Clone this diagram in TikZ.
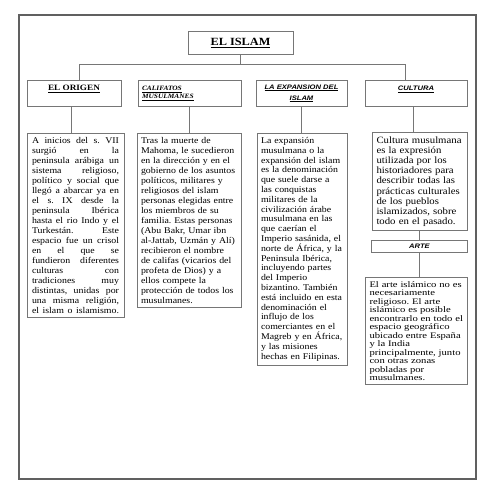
\documentclass[tikz,border=0pt]{standalone}
\usepackage{fontspec}
\usepackage{xcolor}
\usepackage{tikz}
\usetikzlibrary{calc}
\usetikzlibrary{positioning}
\setmainfont[FakeStretch=1.12]{Liberation Serif}
\newfontfamily\hdrsans[FakeStretch=1.17]{Liberation Sans}
\newfontfamily\artefont[FakeStretch=1.25]{Liberation Serif}
\definecolor{boxgray}{RGB}{118,118,118}
\definecolor{framegray}{RGB}{96,96,96}
\lefthyphenmin=62
\frenchspacing
\newcommand{\jl}[1]{\makebox[\hsize][s]{\spaceskip=0.25em plus 4em\relax #1}}
\tikzstyle{hdrbox} = [draw=boxgray, line width=0.8pt, fill=white, rectangle,
anchor=north, minimum height=26pt, inner sep=2pt]
\tikzstyle{txtbox} = [draw=boxgray, line width=0.8pt, fill=white, rectangle,
anchor=north, inner ysep=4pt, inner xsep=4pt, align=left, font=\fontsize{8.8}{10}\selectfont]
\tikzstyle{conn} = [draw=boxgray, line width=0.8pt]

\begin{document}
\begin{tikzpicture}[x=1pt, y=-1pt]
        \useasboundingbox (0,0) rectangle (495,495);
        \draw[framegray, line width=1.3pt] (19,15) rectangle (476,479);

        \node [hdrbox, minimum width=105pt, minimum height=23pt,
            font=\fontsize{11}{13}\selectfont\bfseries] (islam) at (240.5,31) {\underline{EL ISLAM}};

        \node [hdrbox, minimum width=94pt, text height=6pt, text depth=11pt,
            font=\fontsize{8.2}{10}\selectfont\bfseries] (origen) at (74,80) {\underline{EL ORIGEN}};
        \node [hdrbox, minimum width=103pt, text width=95pt, align=left,
            font=\fontsize{6.6}{8.5}\selectfont\bfseries\itshape] (califatos) at (189.5,80)
            {\underline{CALIFATOS}\\\underline{MUSULMANES}};
        \node [hdrbox, minimum width=91pt, align=center,
            font=\hdrsans\fontsize{6.5}{11}\selectfont\bfseries\itshape] (expansion) at (301.5,80)
            {\underline{LA EXPANSION DEL}\\\underline{ISLAM}};
        \node [hdrbox, minimum width=102pt, text height=6pt, text depth=11pt,
            font=\hdrsans\fontsize{6.5}{10}\selectfont\bfseries\itshape] (cultura) at (416,80) {\underline{CULTURA}};

        \node [txtbox, text width=87pt, inner xsep=5pt] (origen-txt) at (75.5,133) {%
            \jl{A inicios del s. VII}\\ \jl{surgió en la}\\ \jl{peninsula arábiga un}\\
            \jl{sistema religioso,}\\ \jl{político y social que}\\ \jl{llegó a abarcar ya en}\\
            \jl{el s. IX desde la}\\ \jl{peninsula Ibérica}\\ \jl{hasta el rio Indo y el}\\
            \jl{Turkestán. Este}\\ \jl{espacio fue un crisol}\\ \jl{en el que se}\\
            \jl{fundieron diferentes}\\ \jl{culturas con}\\ \jl{tradiciones muy}\\
            \jl{distintas, unidas por}\\ \jl{una misma religión,}\\ \jl{el islam o islamismo.}};
        \node [txtbox, text width=96pt] (califatos-txt) at (189,133) {%
            Tras la muerte de\\ Mahoma, le sucedieron\\ en la dirección y en el\\
            gobierno de los asuntos\\ políticos, militares y\\ religiosos del islam\\
            personas elegidas entre\\ los miembros de su\\ familia. Estas personas\\
            (Abu Bakr, Umar ibn\\ al-Jattab, Uzmán y Alí)\\ recibieron el nombre\\
            de califas (vicarios del\\ profeta de Dios) y a\\ ellos compete la\\
            protección de todos los\\ musulmanes.};
        \node [txtbox, text width=82pt, font=\fontsize{8.8}{9.8}\selectfont] (expansion-txt) at (302,133) {%
            La expansión\\ musulmana o la\\ expansión del islam\\ es la denominación\\
            que suele darse a\\ las conquistas\\ militares de la\\ civilización árabe\\
            musulmana en las\\ que caerían el\\ Imperio sasánida, el\\ norte de África, y la\\
            Peninsula Ibérica,\\ incluyendo partes\\ del Imperio\\ bizantino. También\\
            está incluido en esta\\ denominación el\\ influjo de los\\ comerciantes en el\\
            Magreb y en África,\\ y las misiones\\ hechas en Filipinas.};
        \node [txtbox, text width=86pt, inner xsep=4.5pt,
            font=\fontsize{9.6}{10.2}\selectfont] (cultura-txt) at (419.5,132) {%
            Cultura musulmana\\ es la expresión\\ utilizada por los\\ historiadores para\\
            describir todas las\\ prácticas culturales\\ de los pueblos\\ islamizados, sobre\\
            todo en el pasado.};

        \node [hdrbox, minimum width=96pt, minimum height=12pt, below=9pt of cultura-txt,
            font=\hdrsans\fontsize{6.5}{8}\selectfont\bfseries\itshape] (arte) {ARTE};
        \node [txtbox, text width=94pt, below=24pt of arte.south east, anchor=north east,
            font=\artefont\fontsize{8.5}{8.5}\selectfont] (arte-txt) {%
            El arte islámico no es\\ necesariamente\\ religioso. El arte\\ islámico es posible\\
            encontrarlo en todo el\\ espacio geográfico\\ ubicado entre España\\ y la India\\
            principalmente, junto\\ con otras zonas\\ pobladas por\\ musulmanes.};

        \coordinate (busL) at (79,64);
        \coordinate (busR) at (405,64);
        \coordinate (origen-drop) at (71,120);
        \coordinate (cultura-drop) at (413,120);
        \draw[conn] (islam.south) -- (islam.south |- busL);
        \draw[conn] (origen.north -| busL) -- (busL) -- (busR) -- (cultura.north -| busR);
        \draw[conn] (origen-drop |- origen.south) -- (origen-drop |- origen-txt.north);
        \draw[conn] (califatos.south) -- (califatos.south |- califatos-txt.north);
        \draw[conn] (expansion.south) -- (expansion.south |- expansion-txt.north);
        \draw[conn] (cultura-drop |- cultura.south) -- (cultura-drop |- cultura-txt.north);
        \draw[conn] (arte.north) -- (arte.north |- cultura-txt.south);
        \draw[conn] (arte.south) -- (arte.south |- arte-txt.north);
    \end{tikzpicture}
\end{document}
